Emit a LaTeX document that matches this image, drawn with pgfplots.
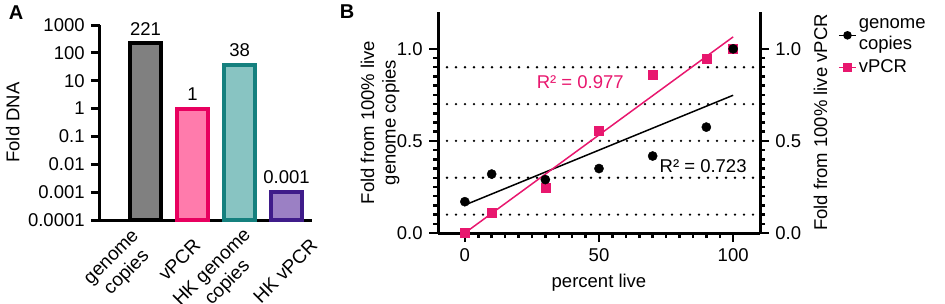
\documentclass[border=0pt]{standalone}
\usepackage{pgfplots}
\pgfplotsset{compat=1.18}
\usepackage{fontspec}
\setmainfont{Liberation Sans}
\definecolor{gfill}{HTML}{808080}
\definecolor{pfill}{HTML}{FF7BAC}
\definecolor{pedge}{HTML}{E8005F}
\definecolor{tfill}{HTML}{88C4C2}
\definecolor{tedge}{HTML}{15807E}
\definecolor{ufill}{HTML}{9B80C4}
\definecolor{uedge}{HTML}{3F1C8A}
\definecolor{vpink}{HTML}{E8176E}
\begin{document}
\fontsize{18.5}{21.5}\selectfont
\begin{tikzpicture}[x=1pt,y=1pt]
\useasboundingbox (0,0) rectangle (945,303);
% ---------------- Panel A ----------------
\begin{axis}[
  at={(100pt,83pt)}, anchor=south west, scale only axis,
  width=212pt, height=195pt,
  ymode=log, log origin=infty,
  ymin=1e-4, ymax=1e3,
  xmin=-0.968, xmax=3.54,
  axis x line*=bottom, axis y line*=left,
  axis line style={line width=3pt, -},
  /pgf/number format/assume math mode=true,
  ytick={1e-4,1e-3,1e-2,1e-1,1,10,100,1000},
  yticklabels={0.0001,0.001,0.01,0.1,1,10,100,1000},
  yminorticks=false,
  tick align=outside, major tick length=9pt,
  ytick style={line width=3pt, black},
  xtick={0,1,2,3},
  xticklabels={},
  xtick style={draw=none},
  ylabel={Fold DNA},
  ylabel shift=-4pt,
  ybar, bar width=31pt, bar shift=0pt,
  nodes near coords, point meta=explicit symbolic,
  every node near coord/.append style={text=black, anchor=south},
  clip=false,
]
\addplot[fill=gfill, draw=black, line width=4pt] coordinates {(0,221) [221]};
\addplot[fill=pfill, draw=pedge, line width=4pt] coordinates {(1,1) [1]};
\addplot[fill=tfill, draw=tedge, line width=4pt] coordinates {(2,38) [38]};
\addplot[fill=ufill, draw=uedge, line width=4pt] coordinates {(3,0.001) [0.001]};
\end{axis}
% rotated category labels of panel A
\begin{scope}[every node/.style={rotate=45, anchor=east, align=center, inner sep=0pt,
    font=\fontsize{19}{21.5}\selectfont}]
\node at (145,61) {genome\\copies};
\node at (197,61) {vPCR};
\node at (256,63) {HK genome\\copies};
\node at (314,61) {HK vPCR};
\end{scope}
% ---------------- Panel B (left axis) ----------------
\begin{axis}[
  at={(438pt,70pt)}, anchor=south west, scale only axis,
  width=322pt, height=221pt,
  xmin=-10, xmax=110, ymin=0, ymax=1.2,
  axis x line*=bottom, axis y line*=left,
  axis line style={line width=3pt, -},
  /pgf/number format/assume math mode=true,
  xtick={0,50,100}, ytick={0,0.5,1},
  yticklabel style={/pgf/number format/.cd, fixed, fixed zerofill, precision=1},
  minor x tick num=9, minor y tick num=9,
  tick align=outside, major tick length=9pt, minor tick length=5pt,
  tick style={line width=2.5pt, black},
  extra y ticks={0.1,0.3,0.5,0.7,0.9},
  extra y tick labels={},
  extra y tick style={grid=major, major tick length=0pt},
  major grid style={black, line width=2.6pt, dash pattern=on 0pt off 9pt, line cap=round},
  xlabel={percent live},
  ylabel={Fold from 100\% live\\genome copies},
  ylabel style={align=center},
  ylabel shift=-24pt,
  clip=false,
  legend style={at={(1,1)}, anchor=north west, xshift=75pt, yshift=-2pt, draw=none, fill=none,
     row sep=3pt, cells={anchor=west, align=left}},
  legend cell align=left,
]
\addplot[black, line width=1.5pt, forget plot] coordinates {(0,0.152) (100,0.748)};
\addplot[vpink, line width=1.5pt, forget plot] coordinates {(0,0) (100,1.065)};
\addplot[only marks, mark=square*, mark size=4.5pt, vpink, forget plot] coordinates {
 (0,0) (10,0.11) (30,0.245) (50,0.553) (70,0.857) (90,0.947) (100,1.0)};
\addplot[only marks, mark=*, mark size=4.6pt, black, forget plot] coordinates {
 (0,0.17) (10,0.32) (30,0.29) (50,0.35) (70,0.418) (90,0.575) (100,1.0)};
\addlegendimage{black, mark=*, mark size=3.5pt, line width=1.5pt}
\addlegendentry{genome\\copies}
\addlegendimage{vpink, mark=square*, mark size=4pt, line width=1.5pt}
\addlegendentry{vPCR}
\node[text=vpink] at (axis cs:43,0.82) {R² = 0.977};
\node[text=black] at (axis cs:88.8,0.364) {R² = 0.723};
\end{axis}
% ---------------- Panel B (right axis) ----------------
\begin{axis}[
  at={(438pt,70pt)}, anchor=south west, scale only axis,
  width=322pt, height=221pt,
  xmin=-10, xmax=110, ymin=0, ymax=1.2,
  axis x line=none, axis y line*=right,
  axis line style={line width=3pt, -},
  /pgf/number format/assume math mode=true,
  ytick={0,0.5,1},
  yticklabel style={/pgf/number format/.cd, fixed, fixed zerofill, precision=1},
  minor y tick num=9,
  tick align=outside, major tick length=9pt, minor tick length=5pt,
  tick style={line width=2.5pt, black},
  ylabel={Fold from 100\% live vPCR},
]
\end{axis}
\node[font=\bfseries\fontsize{20}{22}\selectfont] at (16,290) {A};
\node[font=\bfseries\fontsize{20}{22}\selectfont] at (347,291) {B};
\end{tikzpicture}
\end{document}
